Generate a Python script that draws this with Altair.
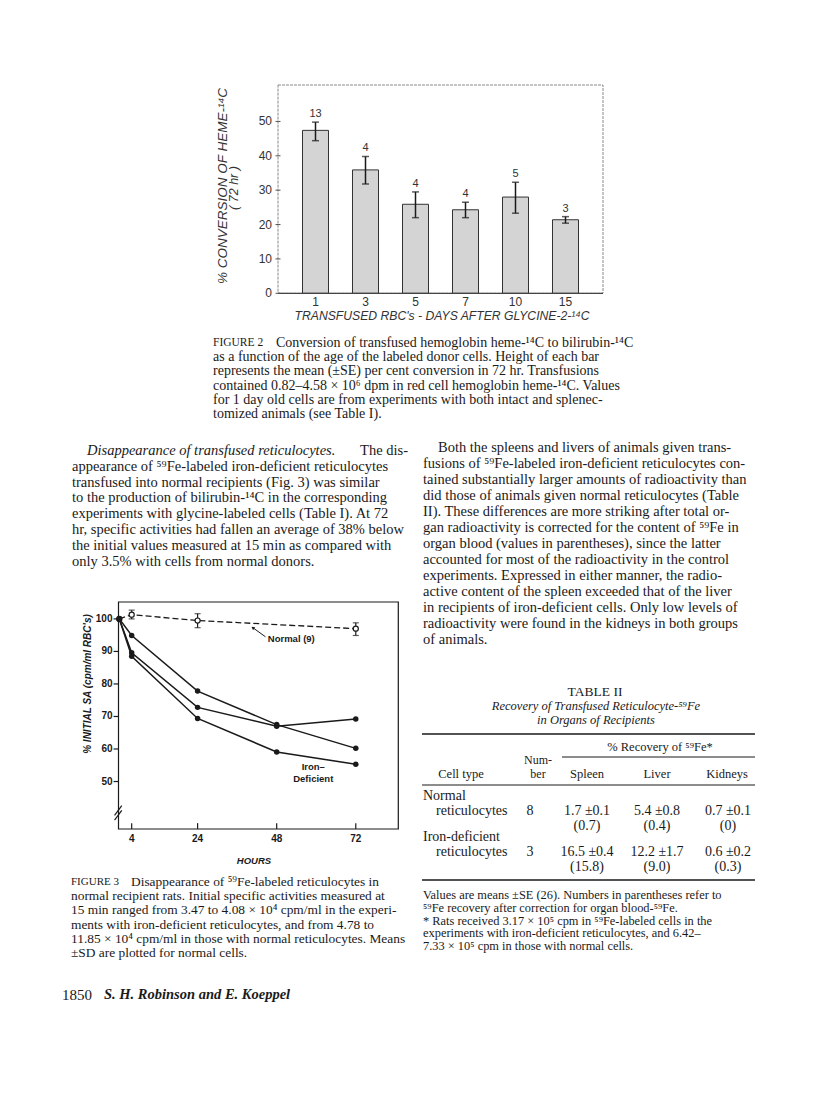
import altair as alt
import pandas as pd

W, H = 800, 1084
M = 8  # page margin

SERIF = "Liberation Serif"
SANS = "Liberation Sans"
INK = "#1a1a1a"

# ---------------- Figure 2 data ----------------
days = ["1", "3", "5", "7", "10", "15"]
conv_mean = [47.4, 35.9, 25.9, 24.3, 28.0, 21.4]
conv_hi = [49.8, 39.8, 29.5, 26.5, 32.3, 22.3]
conv_lo = [44.4, 31.8, 22.0, 22.0, 23.3, 20.4]
n_cells = ["13", "4", "4", "4", "5", "3"]
fig2_yticks = [0, 10, 20, 30, 40, 50]

# ---------------- Figure 3 data ----------------
hours = [0.25, 4, 24, 48, 72]
iron_a = [100, 94.9, 77.8, 67.5, 60.2]
iron_b = [100, 89.6, 72.8, 67.0, 69.2]
iron_c = [100, 88.5, 69.4, 59.1, 55.3]
normal_hours = [0.25, 4, 24, 72]
normal_mean = [100, 101.3, 99.5, 97.0]
err_hours = [4, 24, 72]
normal_hi = [102.7, 101.6, 98.8]
normal_lo = [100.0, 97.3, 94.9]
fig3_xticks = [4, 24, 48, 72]
fig3_yticks = [50, 60, 70, 80, 90, 100]

# ---------------- Table II data ----------------
cell_type_1 = ["Normal", "Iron-deficient"]
cell_type_2 = ["reticulocytes", "reticulocytes"]
numbers = ["8", "3"]
spleen = ["1.7 ±0.1", "16.5 ±0.4"]
spleen_corr = ["(0.7)", "(15.8)"]
liver = ["5.4 ±0.8", "12.2 ±1.7"]
liver_corr = ["(0.4)", "(9.0)"]
kidneys = ["0.7 ±0.1", "0.6 ±0.2"]
kidneys_corr = ["(0)", "(0.3)"]

# ---------------- Page text ----------------
cap2_head = "FIGURE 2"
cap2_lines = [
    "Conversion of transfused hemoglobin heme-¹⁴C to bilirubin-¹⁴C",
    "as a function of the age of the labeled donor cells. Height of each bar",
    "represents the mean (±SE) per cent conversion in 72 hr. Transfusions",
    "contained 0.82–4.58 × 10⁶ dpm in red cell hemoglobin heme-¹⁴C. Values",
    "for 1 day old cells are from experiments with both intact and splenec-",
    "tomized animals (see Table I).",
]
left_italic = "Disappearance of transfused reticulocytes."
left_first_rest = "The dis-"
left_lines = [
    "appearance of ⁵⁹Fe-labeled iron-deficient reticulocytes",
    "transfused into normal recipients (Fig. 3) was similar",
    "to the production of bilirubin-¹⁴C in the corresponding",
    "experiments with glycine-labeled cells (Table I). At 72",
    "hr, specific activities had fallen an average of 38% below",
    "the initial values measured at 15 min as compared with",
    "only 3.5% with cells from normal donors.",
]
right_first = "Both the spleens and livers of animals given trans-"
right_lines = [
    "fusions of ⁵⁹Fe-labeled iron-deficient reticulocytes con-",
    "tained substantially larger amounts of radioactivity than",
    "did those of animals given normal reticulocytes (Table",
    "II). These differences are more striking after total or-",
    "gan radioactivity is corrected for the content of ⁵⁹Fe in",
    "organ blood (values in parentheses), since the latter",
    "accounted for most of the radioactivity in the control",
    "experiments. Expressed in either manner, the radio-",
    "active content of the spleen exceeded that of the liver",
    "in recipients of iron-deficient cells. Only low levels of",
    "radioactivity were found in the kidneys in both groups",
    "of animals.",
]
cap3_head = "FIGURE 3"
cap3_first = "Disappearance of ⁵⁹Fe-labeled reticulocytes in"
cap3_lines = [
    "normal recipient rats. Initial specific activities measured at",
    "15 min ranged from 3.47 to 4.08 × 10⁴ cpm/ml in the experi-",
    "ments with iron-deficient reticulocytes, and from 4.78 to",
    "11.85 × 10⁴ cpm/ml in those with normal reticulocytes. Means",
    "±SD are plotted for normal cells.",
]
table_title = "TABLE II"
table_subtitle = ["Recovery of Transfused Reticulocyte-⁵⁹Fe", "in Organs of Recipients"]
table_foot = [
    "Values are means ±SE (26). Numbers in parentheses refer to",
    "⁵⁹Fe recovery after correction for organ blood-⁵⁹Fe.",
    "* Rats received 3.17 × 10⁵ cpm in ⁵⁹Fe-labeled cells in the",
    "experiments with iron-deficient reticulocytes, and 6.42–",
    "7.33 × 10⁵ cpm in those with normal cells.",
]
page_no = "1850"
authors = "S. H. Robinson and E. Koeppel"

ONE = pd.DataFrame({"k": [0]})


def block(lines, x, y0, dy=16.0, size=14, font=SERIF, style="normal", weight="normal",
          align="left", angle=None, color=INK):
    df = pd.DataFrame({"t": lines, "i": list(range(len(lines)))})
    mk = dict(align=align, baseline="middle", fontSize=size, font=font,
              fontStyle=style, fontWeight=weight, color=color)
    if angle is not None:
        mk["angle"] = angle
    return (alt.Chart(df)
            .transform_calculate(py=f"{y0 - M} + datum.i * {dy}")
            .mark_text(**mk)
            .encode(x=alt.value(x - M), y=alt.Y("py:Q", scale=None, axis=None), text="t:N"))


def hrule(x1, x2, y, w=1.0):
    return alt.Chart(ONE).mark_rule(color=INK, strokeWidth=w).encode(
        x=alt.value(x1 - M), x2=alt.value(x2 - M), y=alt.value(y - M))


def DX(v, scale):
    return alt.X(datum=v, type="quantitative", scale=scale, axis=None)


def DY(v, scale):
    return alt.Y(datum=v, type="quantitative", scale=scale, axis=None)


# ================= Figure 2 =================
f2 = pd.DataFrame({"idx": list(range(len(days))), "day": days, "mean": conv_mean,
                   "hi": conv_hi, "lo": conv_lo, "n": n_cells})
f2ticks = pd.DataFrame({"v": fig2_yticks, "lab": [str(v) for v in fig2_yticks]})
X2_LO, X2_HI = -0.75, len(days) - 0.25
Y2_LO, Y2_HI = 0, 60.6
x2s = alt.Scale(domain=[X2_LO, X2_HI], range=[273 - M, 608 - M], nice=False, zero=False)
y2s = alt.Scale(domain=[Y2_LO, Y2_HI], range=[293.3 - M, 85 - M], nice=False, zero=False)
X2 = alt.X("idx:Q", scale=x2s, axis=None)

frame2 = alt.Chart(ONE).mark_rect(fillOpacity=0, stroke="#8a8a8a", strokeWidth=1,
                                  strokeDash=[3, 1]).encode(
    x=DX(X2_LO, x2s), x2=alt.datum(X2_HI), y=DY(Y2_LO, y2s), y2=alt.datum(Y2_HI))
base2 = alt.Chart(ONE).mark_rule(color="#444", strokeWidth=1.2).encode(
    x=DX(X2_LO, x2s), x2=alt.datum(X2_HI), y=DY(Y2_LO, y2s))
ytick2 = alt.Chart(f2ticks).mark_rule(color="#555", strokeWidth=1).encode(
    x=DX(X2_LO - 0.05, x2s), x2=alt.datum(X2_LO + 0.05), y=alt.Y("v:Q", scale=y2s, axis=None))
ylab2 = alt.Chart(f2ticks).mark_text(align="right", baseline="middle", dx=-6, font=SANS,
                                     fontSize=12, color="#333").encode(
    x=DX(X2_LO, x2s), y=alt.Y("v:Q", scale=y2s, axis=None), text="lab:N")
xlab2 = alt.Chart(f2).mark_text(align="center", baseline="middle", dy=9, font=SANS,
                                fontSize=12, color="#333").encode(
    x=X2, y=DY(Y2_LO, y2s), text="day:N")
bars = alt.Chart(f2).mark_bar(size=26, fill="#d4d4d4", stroke="#333", strokeWidth=1).encode(
    x=X2, y=alt.Y("mean:Q", scale=y2s, axis=None))
err2 = alt.Chart(f2).mark_rule(color=INK, strokeWidth=1.5).encode(
    x=X2, y=alt.Y("lo:Q", scale=y2s, axis=None), y2="hi:Q")
cap2a = alt.Chart(f2).mark_tick(orient="horizontal", size=7, thickness=1.5, color=INK).encode(
    x=X2, y=alt.Y("lo:Q", scale=y2s, axis=None))
cap2b = alt.Chart(f2).mark_tick(orient="horizontal", size=7, thickness=1.5, color=INK).encode(
    x=X2, y=alt.Y("hi:Q", scale=y2s, axis=None))
nlab = alt.Chart(f2).mark_text(dy=-8, font=SANS, fontSize=11, color="#333").encode(
    x=X2, y=alt.Y("hi:Q", scale=y2s, axis=None), text="n:N")
fig2 = alt.layer(frame2, bars, base2, ytick2, ylab2, xlab2, err2, cap2a, cap2b, nlab)

# ================= Figure 3 =================
iron = pd.DataFrame({
    "hour": hours * 3,
    "pct": iron_a + iron_b + iron_c,
    "series": ["a"] * len(hours) + ["b"] * len(hours) + ["c"] * len(hours),
})
norm = pd.DataFrame({"hour": normal_hours, "pct": normal_mean})
nerr = pd.DataFrame({"hour": err_hours, "hi": normal_hi, "lo": normal_lo})
f3x = pd.DataFrame({"v": fig3_xticks, "lab": [str(v) for v in fig3_xticks]})
f3y = pd.DataFrame({"v": fig3_yticks, "lab": [str(v) for v in fig3_yticks]})

X3_LO, X3_HI = 0, 84.9
Y3_LO, Y3_HI = 35.4, 105.2
x3s = alt.Scale(domain=[X3_LO, X3_HI], range=[118.5 - M, 398.3 - M], nice=False, zero=False)
y3s = alt.Scale(domain=[Y3_LO, Y3_HI], range=[829 - M, 602 - M], nice=False, zero=False)
X3 = alt.X("hour:Q", scale=x3s, axis=None)


def ann_text(txt, hx, vy, align="center"):
    return alt.Chart(ONE).mark_text(align=align, baseline="middle", font=SANS, fontWeight="bold",
                                    fontSize=9.5, color=INK, text=txt).encode(
        x=DX(hx, x3s), y=DY(vy, y3s))


def seg3(xa, xb, ya, yb, w=1.2):
    return alt.Chart(ONE).mark_rule(color=INK, strokeWidth=w).encode(
        x=DX(xa, x3s), x2=alt.datum(xb), y=DY(ya, y3s), y2=alt.datum(yb))


frame3 = alt.Chart(ONE).mark_rect(fillOpacity=0, stroke=INK, strokeWidth=1.2).encode(
    x=DX(X3_LO, x3s), x2=alt.datum(X3_HI), y=DY(Y3_LO, y3s), y2=alt.datum(Y3_HI))
xtick3 = alt.Chart(f3x).mark_rule(color=INK, strokeWidth=1.2).encode(
    x=alt.X("v:Q", scale=x3s, axis=None), y=DY(Y3_LO, y3s), y2=alt.datum(Y3_LO + 1.8))
xlab3 = alt.Chart(f3x).mark_text(align="center", baseline="middle", dy=10, font=SANS,
                                 fontWeight="bold", fontSize=10, color=INK).encode(
    x=alt.X("v:Q", scale=x3s, axis=None), y=DY(Y3_LO, y3s), text="lab:N")
ytick3 = alt.Chart(f3y).mark_rule(color=INK, strokeWidth=1.2).encode(
    x=DX(X3_LO - 1.5, x3s), x2=alt.datum(X3_LO), y=alt.Y("v:Q", scale=y3s, axis=None))
ylab3 = alt.Chart(f3y).mark_text(align="right", baseline="middle", dx=-6, font=SANS,
                                 fontWeight="bold", fontSize=10, color=INK).encode(
    x=DX(X3_LO, x3s), y=alt.Y("v:Q", scale=y3s, axis=None), text="lab:N")
iron_lines = alt.Chart(iron).mark_line(color=INK, strokeWidth=1.5).encode(
    x=X3, y=alt.Y("pct:Q", scale=y3s, axis=None), detail="series:N")
iron_pts = alt.Chart(iron).mark_circle(size=30, color=INK, opacity=1).encode(
    x=X3, y=alt.Y("pct:Q", scale=y3s, axis=None))
norm_line = alt.Chart(norm).mark_line(color=INK, strokeWidth=1.3, strokeDash=[6, 3]).encode(
    x=X3, y=alt.Y("pct:Q", scale=y3s, axis=None))
nerr_rule = alt.Chart(nerr).mark_rule(color=INK, strokeWidth=1.2).encode(
    x=X3, y=alt.Y("lo:Q", scale=y3s, axis=None), y2="hi:Q")
nerr_a = alt.Chart(nerr).mark_tick(orient="horizontal", size=6, thickness=1.2, color=INK).encode(
    x=X3, y=alt.Y("lo:Q", scale=y3s, axis=None))
nerr_b = alt.Chart(nerr).mark_tick(orient="horizontal", size=6, thickness=1.2, color=INK).encode(
    x=X3, y=alt.Y("hi:Q", scale=y3s, axis=None))
norm_pts = alt.Chart(norm).mark_point(shape="circle", filled=True, fill="white", stroke=INK,
                                      strokeWidth=1.2, size=26, opacity=1).encode(
    x=X3, y=alt.Y("pct:Q", scale=y3s, axis=None))
norm_lab = ann_text("Normal (9)", 45.3, 93.7, align="left")
arrow = seg3(40.9, 44.6, 97.2, 94.5, w=1.0)
arrow_head = alt.Chart(ONE).mark_point(shape="triangle", filled=True, color=INK, size=14,
                                       angle=307, opacity=1).encode(
    x=DX(40.9, x3s), y=DY(97.2, y3s))
iron_lab1 = ann_text("Iron–", 59.1, 54.4)
iron_lab2 = ann_text("Deficient", 59.1, 50.9)
brk1 = seg3(-1.2, 1.0, 39.6, 42.6)
brk2 = seg3(-1.2, 1.0, 38.1, 41.1)
fig3 = alt.layer(frame3, xtick3, xlab3, ytick3, ylab3, norm_line, nerr_rule, nerr_a, nerr_b,
                 norm_pts, iron_lines, iron_pts, norm_lab, arrow, arrow_head, iron_lab1,
                 iron_lab2, brk1, brk2)

# ================= Text =================
BODY = 14.5
texts = [
    # figure 2 axis titles
    block(["% CONVERSION OF HEME-¹⁴C"], 223, 186, size=13.5, font=SANS, style="italic",
          align="center", angle=270, color="#333"),
    block(["( 72 hr )"], 234, 188, size=12.5, font=SANS, style="italic", align="center",
          angle=270, color="#333"),
    block(["TRANSFUSED RBC's - DAYS AFTER GLYCINE-2-¹⁴C"], 442, 316, size=12.2, font=SANS,
          style="italic", align="center", color="#333"),
    # figure 2 caption
    block([cap2_head], 213, 343, size=11.5),
    block(cap2_lines[:1], 276, 343, size=14),
    block(cap2_lines[1:], 213, 343 + 14.2, dy=14.2, size=14),
    # left column
    block([left_italic], 87, 451, size=BODY, style="italic"),
    block([left_first_rest], 408, 451, size=BODY, align="right"),
    block(left_lines, 72, 451 + 15.8, dy=15.8, size=BODY),
    # right column
    block([right_first], 438, 448, size=BODY),
    block(right_lines, 423, 448 + 16, dy=16, size=BODY),
    # figure 3 axis titles
    block(["% INITIAL SA (cpm/ml RBC's)"], 88, 684, size=10, font=SANS, style="italic",
          weight="bold", align="center", angle=270),
    block(["HOURS"], 254, 861, size=9.5, font=SANS, style="italic", weight="bold",
          align="center"),
    # figure 3 caption
    block([cap3_head], 71, 882, size=11),
    block([cap3_first], 131, 882, size=13.4),
    block(cap3_lines, 71, 882 + 14.2, dy=14.2, size=13.4),
    # footer
    block([page_no], 62, 995, size=15),
    block([authors], 104, 995, size=14.5, style="italic", weight="bold"),
    # table
    block([table_title], 595, 692, size=13.5, align="center"),
    block(table_subtitle, 596, 706, dy=14, size=12.5, style="italic", align="center"),
    hrule(422, 755, 734, 1.6),
    block(["% Recovery of ⁵⁹Fe*"], 660, 747, size=12.5, align="center"),
    hrule(562, 755, 757, 1.0),
    block(["Num-", "ber"], 538, 760, dy=13.5, size=12, align="center"),
    block(["Cell type"], 461, 774, size=12.5, align="center"),
    block(["Spleen"], 587, 774, size=12.5, align="center"),
    block(["Liver"], 657, 774, size=12.5, align="center"),
    block(["Kidneys"], 727, 774, size=12.5, align="center"),
    hrule(422, 755, 785, 1.2),
    hrule(422, 755, 880, 1.6),
]
row_y = [811, 852]
for r in range(2):
    y = row_y[r]
    texts += [
        block([cell_type_1[r]], 423, y - 15.5, size=14),
        block([cell_type_2[r]], 436, y, size=14),
        block([numbers[r]], 530, y, size=14, align="center"),
        block([spleen[r], spleen_corr[r]], 587, y, dy=14.5, size=14, align="center"),
        block([liver[r], liver_corr[r]], 657, y, dy=14.5, size=14, align="center"),
        block([kidneys[r], kidneys_corr[r]], 728, y, dy=14.5, size=14, align="center"),
    ]
texts.append(block(table_foot, 423, 895, dy=12.8, size=12.4))

chart = (alt.layer(fig2, fig3, *texts)
         .resolve_scale(x="independent", y="independent")
         .properties(width=W, height=H, padding=0,
                     autosize=alt.AutoSizeParams(type="none"))
         .configure_view(stroke=None))

chart.save("out.html", embed_options={"renderer": "svg", "actions": False})
